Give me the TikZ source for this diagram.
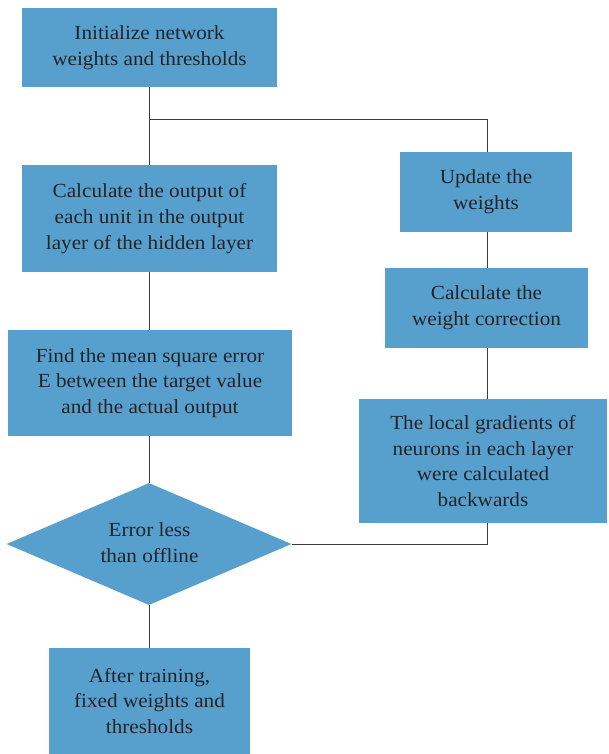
\documentclass[tikz,border=0pt]{standalone}
\usepackage{fontspec}
\setmainfont[FakeStretch=1.06]{Liberation Serif}
\usetikzlibrary{shapes.geometric}
\definecolor{boxblue}{RGB}{87,160,206}
\definecolor{txt}{RGB}{35,35,40}
\definecolor{ln}{RGB}{60,60,60}
\tikzset{
  box/.style={fill=boxblue, draw=none, text=txt, align=center, font=\fontsize{20}{25.8}\selectfont, inner sep=0pt},
  conn/.style={draw=ln, line width=0.9pt}
}
\begin{document}
\begin{tikzpicture}[x=1pt,y=-1pt]
\useasboundingbox (0,0) rectangle (608,754);
% left column
\node[box, minimum width=255, minimum height=79] (init) at (149.5,47.5) {Initialize network\\weights and thresholds};
\node[box, minimum width=255, minimum height=107] (calc) at (149.5,218.5) {Calculate the output of\\each unit in the output\\layer of the hidden layer};
\node[box, minimum width=284, minimum height=106] (mse) at (150,383) {Find the mean square error\\E between the target value\\and the actual output};
\node[box, diamond, aspect=2.34, minimum width=285, minimum height=122, inner sep=0pt] (dec) at (149,544) {};
\node[text=txt, align=center, font=\fontsize{20}{25.8}\selectfont] (dect) at (149.5,543) {Error less\\than offline};
\node[box, minimum width=201, minimum height=106] (done) at (149.5,701) {After training,\\fixed weights and\\thresholds};
% right column
\node[box, minimum width=172, minimum height=80] (upd) at (486,192) {Update the\\weights};
\node[box, minimum width=203, minimum height=80] (corr) at (486.5,308) {Calculate the\\weight correction};
\node[box, minimum width=248, minimum height=124] (grad) at (483,461) {The local gradients of\\neurons in each layer\\were calculated\\backwards};
% connectors
\coordinate (j1) at (149,119);
\coordinate (j2) at (487,119);
\coordinate (j3) at (487,544);
\draw[conn] (init.south -| j1) -- (calc.north -| j1);
\draw[conn] (j1) -- (j2) -- (upd.north -| j2);
\draw[conn] (calc.south -| j1) -- (mse.north -| j1);
\draw[conn] (mse.south -| j1) -- (dec.north);
\draw[conn] (dec.south) -- (done.north -| j1);
\draw[conn] (upd.south -| j2) -- (corr.north -| j2);
\draw[conn] (corr.south -| j2) -- (grad.north -| j2);
\draw[conn] (grad.south -| j2) -- (j3) -- (dec.east);
\end{tikzpicture}
\end{document}
